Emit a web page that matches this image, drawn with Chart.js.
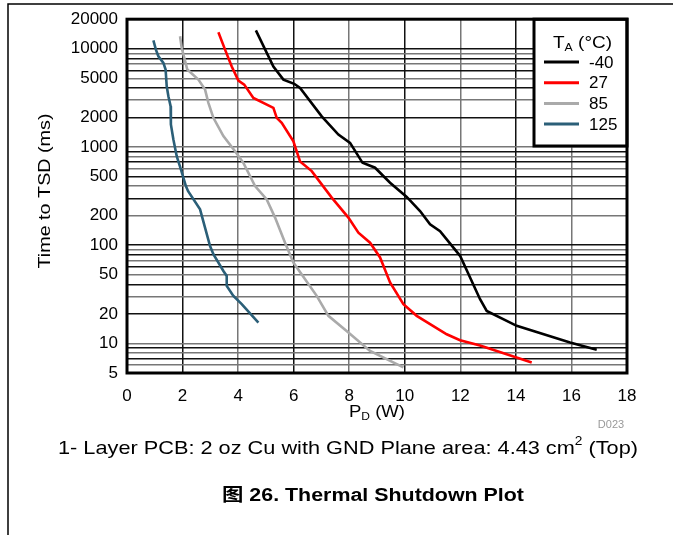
<!DOCTYPE html>
<html>
<head>
<meta charset="utf-8">
<script src="https://cdn.jsdelivr.net/npm/chart.js@4/dist/chart.umd.min.js"></script>
<style>
  html, body { margin: 0; padding: 0; background: #fff; }
  #wrap { position: relative; width: 673px; height: 535px; }
</style>
</head>
<body>
<div id="wrap"><canvas id="chart" width="673" height="535"></canvas></div>
<script>
// data
const seriesNames = ['-40', '27', '85', '125'];

const pdM40 = [4.64, 5.27, 5.63, 6.02, 6.23, 7.01, 7.61, 8.03, 8.48, 8.93, 9.47, 10.07, 10.55, 10.91, 11.27, 11.99, 12.71, 12.95, 14.03, 15.95, 16.91];
const tsdM40 = [15400, 6600, 4850, 4400, 4000, 2050, 1340, 1100, 690, 615, 433, 310, 223, 163, 139, 78, 28.2, 21.4, 15.1, 10.2, 8.6];

const pd27 = [3.29, 3.53, 3.77, 4.01, 4.22, 4.55, 5.27, 5.39, 5.57, 5.99, 6.23, 6.65, 7.37, 7.97, 8.33, 8.75, 9.11, 9.47, 9.95, 10.43, 11.51, 11.99, 12.71, 14.57];
const tsd27 = [14700, 9800, 6600, 4740, 4320, 3160, 2500, 1980, 1760, 1140, 713, 568, 305, 191, 134, 106, 75, 41.7, 25.1, 19.1, 12.4, 10.8, 9.5, 6.4];

const pd85 = [1.91, 1.97, 2.17, 2.57, 2.81, 2.93, 3.11, 3.47, 3.89, 4.19, 4.61, 5.03, 5.33, 5.69, 5.99, 6.83, 7.25, 7.97, 8.75, 9.95];
const tsd85 = [13400, 10200, 6140, 4860, 3840, 2815, 1980, 1290, 906, 690, 400, 293, 191, 106, 66.5, 30.5, 19.1, 12.9, 8.4, 5.7];

const pd125 = [0.95, 1.04, 1.13, 1.31, 1.39, 1.43, 1.49, 1.57, 1.58, 1.67, 1.79, 1.94, 2.12, 2.20, 2.63, 2.99, 3.11, 3.47, 3.59, 3.59, 3.83, 4.13, 4.73];
const tsd125 = [12160, 9800, 8380, 7180, 6140, 4150, 3280, 2600, 1694, 1192, 807, 591, 400, 355, 232, 98, 81, 54.7, 48.6, 38.5, 30.5, 25.1, 16.3];

const xTicks = [0, 2, 4, 6, 8, 10, 12, 14, 16, 18];
const yLabels = [5, 10, 20, 50, 100, 200, 500, 1000, 2000, 5000, 10000, 20000];
const yGrid = [5, 6, 7, 8, 9, 10, 20, 30, 40, 50, 60, 70, 80, 90,
  100, 200, 300, 400, 500, 600, 700, 800, 900,
  1000, 2000, 3000, 4000, 5000, 6000, 7000, 8000, 9000, 10000, 20000];

const colors = ['#000000', '#ff0000', '#aaaaaa', '#2b5f78'];
const FONT = '"Liberation Sans", Arial, "Noto Sans CJK SC", sans-serif';

const toPoints = (xs, ys) => xs.map((x, i) => ({ x: x, y: ys[i] }));
const allX = [pdM40, pd27, pd85, pd125];
const allY = [tsdM40, tsd27, tsd85, tsd125];

const datasets = seriesNames.map((name, i) => ({
  label: name,
  data: toPoints(allX[i], allY[i]),
  borderColor: colors[i],
  backgroundColor: colors[i],
  borderWidth: 2.6,
  pointRadius: 0,
  tension: 0,
  fill: false
}));

// draws a list of [text, font, dy] pieces stretched horizontally to a given width, centred on cx
function drawPieces(ctx, pieces, cx, y, targetW) {
  let total = 0;
  const widths = pieces.map(p => { ctx.font = p[1]; const w = ctx.measureText(p[0]).width; total += w; return w; });
  const k = targetW ? targetW / total : 1;
  ctx.save();
  ctx.translate(cx - total * k / 2, y);
  ctx.scale(k, 1);
  ctx.textAlign = 'left';
  let x = 0;
  pieces.forEach((p, i) => {
    ctx.font = p[1];
    ctx.fillText(p[0], x, p[2] || 0);
    x += widths[i];
  });
  ctx.restore();
}

// frame, plot border, legend and texts
const decorations = {
  id: 'decorations',
  afterDraw(chart) {
    const ctx = chart.ctx;
    const a = chart.chartArea;
    ctx.save();

    // page frame
    ctx.strokeStyle = '#000';
    ctx.lineWidth = 1.5;
    ctx.beginPath();
    ctx.moveTo(8, 535);
    ctx.lineTo(8, 4);
    ctx.lineTo(673, 4);
    ctx.stroke();

    // legend box
    const lx = 534, ly = a.top, lw = a.right - 534, lh = 146 - a.top;
    ctx.fillStyle = '#fff';
    ctx.fillRect(lx, ly, lw, lh);
    ctx.lineWidth = 3;
    ctx.strokeRect(lx, ly, lw, lh);

    ctx.fillStyle = '#000';
    ctx.textBaseline = 'middle';
    drawPieces(ctx, [['T', '17px ' + FONT], ['A', '11px ' + FONT, 5], [' (°C)', '17px ' + FONT]], 582.5, 43, 59);

    ctx.textAlign = 'left';
    ctx.font = '17px ' + FONT;
    seriesNames.forEach((name, i) => {
      const y = 62 + i * 20.7;
      ctx.strokeStyle = colors[i];
      ctx.lineWidth = 3;
      ctx.beginPath();
      ctx.moveTo(544, y);
      ctx.lineTo(579, y);
      ctx.stroke();
      ctx.fillStyle = '#000';
      ctx.fillText(name, 589, y + 1);
    });

    // plot border
    ctx.strokeStyle = '#000';
    ctx.lineWidth = 3;
    ctx.strokeRect(a.left, a.top, a.right - a.left, a.bottom - a.top);

    // y axis title
    ctx.save();
    ctx.translate(45, 191);
    ctx.rotate(-Math.PI / 2);
    drawPieces(ctx, [['Time to TSD (ms)', '17px ' + FONT]], 0, 0, 155);
    ctx.restore();

    // x axis title P_D (W)
    drawPieces(ctx, [['P', '17px ' + FONT], ['D', '11px ' + FONT, 5], [' (W)', '17px ' + FONT]], 377, 412, 56);

    // figure id
    ctx.fillStyle = '#999';
    ctx.font = '11px ' + FONT;
    ctx.textAlign = 'center';
    ctx.fillText('D023', 611, 425);

    // caption line
    ctx.fillStyle = '#000';
    drawPieces(ctx, [
      ['1- Layer PCB: 2 oz Cu with GND Plane area: 4.43 cm', '19px ' + FONT],
      ['2', '12px ' + FONT, -7],
      [' (Top)', '19px ' + FONT]
    ], 348, 449, 580);

    // figure title
    drawPieces(ctx, [['图 26. Thermal Shutdown Plot', 'bold 18px ' + FONT]], 373, 496, 302);

    ctx.restore();
  }
};

new Chart(document.getElementById('chart'), {
  type: 'line',
  data: { datasets: datasets },
  options: {
    responsive: false,
    animation: false,
    layout: { padding: { left: 0, top: 19, right: 46, bottom: 0 } },
    plugins: { legend: { display: false }, tooltip: { enabled: false } },
    scales: {
      x: {
        type: 'linear',
        min: 0,
        max: 18,
        afterBuildTicks: (scale) => { scale.ticks = xTicks.map(v => ({ value: v })); },
        afterFit: (scale) => { scale.height = 162; },
        ticks: { padding: 13, color: '#000', font: { family: FONT, size: 17 } },
        grid: {
          drawTicks: false,
          lineWidth: 1.5,
          color: (c) => (c.index % 2 === 1 ? '#111' : '#777')
        },
        border: { display: false }
      },
      y: {
        type: 'logarithmic',
        min: 5,
        max: 20000,
        afterBuildTicks: (scale) => { scale.ticks = yGrid.map(v => ({ value: v })); },
        afterFit: (scale) => { scale.width = 127; },
        ticks: {
          padding: 9,
          color: '#000',
          autoSkip: false,
          font: { family: FONT, size: 17 },
          callback: (v) => (yLabels.includes(v) ? String(v) : '')
        },
        grid: {
          drawTicks: false,
          lineWidth: 1.5,
          color: (c) => (c.index % 2 === 0 ? '#111' : '#777')
        },
        border: { display: false }
      }
    }
  },
  plugins: [decorations]
});
</script>
</body>
</html>
